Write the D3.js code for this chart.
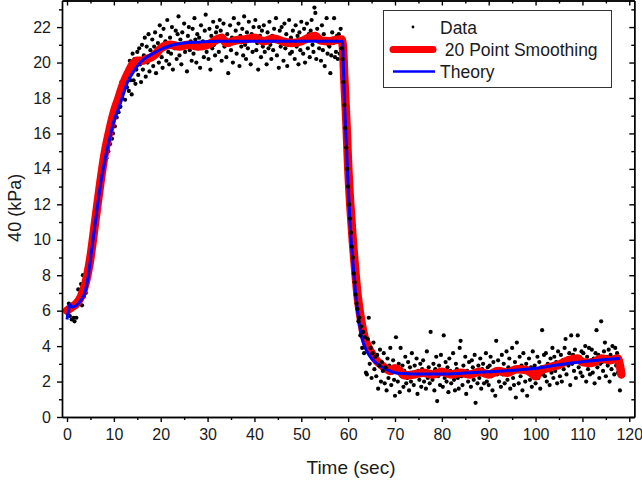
<!DOCTYPE html>
<html><head><meta charset="utf-8">
<script src="https://cdn.jsdelivr.net/npm/d3@7"></script>
<style>
html,body{margin:0;padding:0;background:#fff;}
svg{display:block;font-family:"Liberation Sans",Arial,sans-serif;}
</style></head>
<body>
<svg id="chart" width="642" height="486"></svg>
<script>
// ---- data ----
const sampleStep = 0.2; // seconds between measured samples
const measured = [
6.0,5.8,6.4,5.7,6.1,5.5,6.3,5.6,5.4,6.2,
5.6,6.6,7.2,6.4,6.9,7.5,6.3,8.0,6.8,7.3,
7.0,7.7,8.4,7.9,8.8,8.7,9.7,9.3,10.1,10.4,
11.4,10.8,12.1,11.5,12.9,12.3,13.0,14.1,13.6,14.6,
14.2,15.3,14.6,15.9,15.0,16.3,15.4,16.8,15.7,16.0,
17.1,16.4,17.6,16.9,17.9,17.2,18.4,17.5,18.9,18.0,
18.9,19.1,17.9,19.3,18.6,19.6,18.4,20.1,19.0,18.2,
20.5,19.0,20.2,18.8,19.6,20.6,19.3,20.8,19.9,18.9,
21.0,19.6,20.4,21.4,19.2,20.9,20.0,21.6,19.5,20.7,
20.2,21.3,19.8,20.9,21.7,19.4,20.6,21.1,20.0,22.1,
21.5,20.3,19.7,21.9,20.8,21.2,20.1,22.4,20.6,19.9,
21.4,20.5,22.0,19.6,21.1,20.8,21.8,20.2,21.6,22.6,
20.4,21.3,19.9,21.7,20.9,22.2,20.6,21.0,19.5,21.5,
22.0,20.7,21.2,20.1,21.9,20.5,22.5,21.3,20.0,21.6,
20.8,21.4,19.7,22.1,20.9,21.2,20.3,21.8,22.7,20.6,
21.1,20.2,21.9,19.6,21.5,20.8,22.3,21.0,20.4,21.7,
22.0,21.3,20.6,22.4,21.8,20.1,21.5,22.2,20.9,21.2,
20.3,21.6,19.4,21.0,22.1,20.7,21.4,20.0,22.5,21.1,
21.8,20.5,21.2,22.2,19.8,21.5,20.9,21.9,20.4,22.6,
21.0,20.2,21.7,20.8,22.3,21.3,19.9,21.6,20.6,22.0,
21.4,22.4,20.7,21.1,19.6,22.0,21.5,20.3,21.8,20.9,
22.1,20.6,21.3,19.9,21.7,20.8,22.3,21.0,20.2,21.5,
20.7,21.9,21.2,22.5,20.4,21.4,19.7,21.8,20.9,22.0,
21.3,20.1,22.2,20.8,21.6,19.8,21.0,22.4,20.5,21.4,
20.6,21.8,21.1,20.2,22.1,20.9,21.5,19.9,21.7,20.7,
22.3,21.2,20.5,21.9,20.0,21.4,22.2,20.8,21.6,20.3,
21.8,22.4,21.0,20.6,23.1,22.8,20.2,21.9,21.2,20.8,
21.4,20.1,22.1,20.7,21.6,19.8,21.3,22.5,20.5,21.0,
20.9,19.4,20.4,21.7,21.1,22.5,20.3,20.6,21.5,20.2,
21.6,20.5,21.9,20.8,20.2,18.9,17.6,16.3,15.2,14.0,
13.0,12.0,11.2,10.4,9.6,9.0,8.1,7.6,6.9,6.4,
6.1,5.4,5.6,4.6,5.1,3.9,4.8,3.6,4.5,2.5,
2.4,4.4,5.6,3.0,3.9,2.2,3.6,4.2,2.7,3.4,
2.3,3.5,1.6,2.9,3.8,2.0,3.1,2.6,3.6,1.9,
2.8,1.5,3.3,2.2,2.9,3.9,1.8,2.5,3.2,2.1,
1.2,4.5,2.7,2.0,3.0,1.4,3.9,2.3,2.9,1.7,
2.6,3.4,1.9,2.2,3.1,1.5,2.8,2.0,3.6,2.4,
1.8,2.9,2.3,3.3,1.3,2.6,2.1,3.0,1.7,2.7,
3.2,2.0,2.5,1.6,3.7,2.2,2.8,1.9,4.8,2.4,
2.1,3.0,1.5,2.7,3.4,0.9,2.3,2.9,1.8,3.5,
2.5,1.7,4.6,2.2,3.1,2.0,2.8,1.4,3.3,2.6,
1.9,2.4,3.6,2.1,1.5,3.0,2.7,2.2,1.6,3.9,
4.3,2.3,1.8,2.9,2.5,3.4,1.3,2.6,2.0,3.1,
2.4,1.7,3.2,2.8,2.1,3.5,0.8,2.5,1.9,2.9,
2.2,3.3,1.6,2.7,3.0,1.9,2.5,3.6,2.0,2.8,
1.8,2.9,3.4,2.3,1.5,3.1,2.6,1.2,4.3,2.4,
3.2,2.0,2.7,1.7,3.5,2.4,3.0,1.9,2.6,3.7,
2.1,2.8,3.3,1.6,2.5,3.9,2.2,1.8,3.1,1.1,
4.2,2.6,1.9,3.4,2.3,2.9,1.5,3.6,2.7,2.0,
3.0,1.2,2.5,3.3,2.1,2.8,1.7,3.7,2.3,2.9,
1.9,2.6,3.4,2.2,3.1,1.6,2.8,4.9,2.4,3.5,
2.3,3.6,2.0,3.0,2.7,1.8,3.3,2.5,3.9,2.2,
3.4,2.6,3.1,1.9,3.7,2.8,2.3,3.5,2.0,3.2,
2.7,3.9,4.4,2.4,3.3,2.9,3.6,1.8,4.6,3.0,
3.5,2.6,3.8,2.2,3.2,4.6,2.8,3.4,2.5,3.7,
2.3,3.6,3.0,4.0,2.0,3.4,2.7,3.9,2.4,3.2,
3.8,2.5,3.3,1.9,3.6,4.9,2.8,3.5,2.2,3.0,
5.4,3.1,2.6,3.7,4.2,2.3,3.4,2.9,3.8,2.0,
3.5,2.7,4.0,3.2,2.4,3.9,2.9,3.6,2.5,3.3,
1.5,3.1,2.6
];
const smoothTime = [0,0.5,1,2,3,4,5,6,7,8,9,10,11,12,13,14,15,16,17,18,19,20,22,24,26,28,30,32,33,34,36,38,40,42,44,46,48,50,52,53,54,56,58,58.6,58.9,59.2,59.6,60,60.5,61,61.5,62,62.5,63,63.5,64,65,66,67,68,69,70,71,72,74,76,78,80,82,84,86,88,90,92,94,96,98,99,100,101,103,105,107,109,110,112,114,116,117.5,118,118.3];
const smoothValue = [6.0,6.1,6.2,6.4,6.8,7.6,9.0,11.0,13.0,14.8,16.1,17.2,18.0,18.8,19.4,19.9,20.1,20.1,20.2,20.3,20.5,20.8,21.0,20.9,21.0,20.9,21.0,21.3,21.4,21.1,21.25,21.3,21.4,21.2,21.35,21.2,21.1,21.2,21.45,21.5,21.25,21.2,21.3,21.3,20.8,19.0,16.8,14.2,11.8,9.9,8.3,6.9,5.9,5.1,4.5,4.1,3.6,3.2,2.95,2.75,2.6,2.75,2.6,2.35,2.4,2.5,2.4,2.55,2.4,2.5,2.4,2.55,2.4,2.6,2.5,2.7,2.65,2.5,2.3,2.6,2.8,2.95,3.2,3.3,3.1,3.05,3.3,3.2,3.3,2.9,2.4];
const theoryTime = [0,0.3,0.6,1.2,2,3,3.8,4.5,5.25,6.2,7.2,8.4,9,10,11,12,13,14,15,16,17,18,20,22,25,28,32,40,50,58.8,59.0,59.2,59.6,60,60.5,61,61.5,62,62.5,63,63.5,64,65,66,67,68,70,72,75,80,85,90,95,100,105,110,115,118];
const theoryValue = [5.5,6.0,6.35,6.2,6.3,6.6,7.0,7.9,9.4,11.3,13.2,14.9,15.6,16.7,17.4,18.2,18.95,19.4,19.8,20.1,20.3,20.45,20.75,20.95,21.1,21.15,21.2,21.2,21.2,21.2,19.6,17.9,15.5,13.0,10.5,8.8,7.2,6.0,5.1,4.4,4.0,3.7,3.3,3.05,2.85,2.7,2.5,2.45,2.42,2.42,2.48,2.55,2.63,2.75,2.95,3.12,3.25,3.3];
const xMajorTicks = [0,10,20,30,40,50,60,70,80,90,100,110,120];
const xMinorTicks = [5,15,25,35,45,55,65,75,85,95,105,115];
const yMajorTicks = [0,2,4,6,8,10,12,14,16,18,20,22];
const yMinorTicks = [1,3,5,7,9,11,13,15,17,19,21,23];
const xTitle = "Time (sec)";
const yTitle = "40 (kPa)";
const legendLabels = ["Data", " 20 Point Smoothing", "Theory"];

// ---- chart ----
const svg = d3.select("#chart");
const L = 62, R = 634.3, T = 0.5, B = 417;
const x = d3.scaleLinear().domain([-1.07, 121.07]).range([L, R]);
const y = d3.scaleLinear().domain([0, 23.5]).range([B, T]);

const pts = measured.map((v, i) => ({t: +(i * sampleStep).toFixed(2), v}));
const smooth = smoothTime.map((t, i) => ({t, v: smoothValue[i]}));
const theory = theoryTime.map((t, i) => ({t, v: theoryValue[i]}));

const dotR = 2.1;
const plot = svg.append("g");
const dotsUnder = plot.append("g");
const line = d3.line().x(d => x(d.t)).y(d => y(d.v)).curve(d3.curveMonotoneX);

dotsUnder.selectAll("circle").data(pts.filter(d => d.t < 58.6 || d.t > 68))
  .join("circle").attr("cx", d => x(d.t)).attr("cy", d => y(d.v)).attr("r", dotR).attr("fill", "#000");

plot.append("path").datum(smooth).attr("d", line).attr("fill", "none")
  .attr("stroke", "#ff0000").attr("stroke-width", 8.5).attr("stroke-linecap", "round").attr("stroke-linejoin", "round");
plot.append("path").datum(theory).attr("d", line).attr("fill", "none")
  .attr("stroke", "#0000ff").attr("stroke-width", 3);

plot.append("g").selectAll("circle").data(pts.filter(d => d.t >= 58.6 && d.t <= 68))
  .join("circle").attr("cx", d => x(d.t)).attr("cy", d => y(d.v)).attr("r", dotR).attr("fill", "#000");

// axes
function styleAxis(g) {
  g.selectAll("path.domain").attr("stroke", "#000").attr("stroke-width", 1.4);
  g.selectAll(".tick line").attr("stroke", "#000").attr("stroke-width", 1.4);
  g.selectAll(".tick text").attr("fill", "#1a1a1a").style("font-size", "16px").style("font-family", '"Liberation Sans",Arial,sans-serif');
}
const gx = svg.append("g").attr("transform", `translate(0,${B})`)
  .call(d3.axisBottom(x).tickValues(xMajorTicks).tickSize(5).tickSizeOuter(0).tickPadding(7).tickFormat(d3.format("d")));
styleAxis(gx);
const gxm = svg.append("g").attr("transform", `translate(0,${B})`)
  .call(d3.axisBottom(x).tickValues(xMinorTicks).tickSize(3).tickSizeOuter(0).tickFormat(""));
styleAxis(gxm);
const gy = svg.append("g").attr("transform", `translate(${L},0)`)
  .call(d3.axisLeft(y).tickValues(yMajorTicks).tickSize(5).tickSizeOuter(0).tickPadding(6).tickFormat(d3.format("d")));
styleAxis(gy);
const gym = svg.append("g").attr("transform", `translate(${L},0)`)
  .call(d3.axisLeft(y).tickValues(yMinorTicks).tickSize(3).tickSizeOuter(0).tickFormat(""));
styleAxis(gym);
// top and right (inward ticks, no labels)
const gt = svg.append("g").attr("transform", `translate(0,${T})`)
  .call(d3.axisBottom(x).tickValues(xMajorTicks).tickSize(5).tickSizeOuter(0).tickFormat(""));
styleAxis(gt);
const gtm = svg.append("g").attr("transform", `translate(0,${T})`)
  .call(d3.axisBottom(x).tickValues(xMinorTicks).tickSize(3).tickSizeOuter(0).tickFormat(""));
styleAxis(gtm);
const gr = svg.append("g").attr("transform", `translate(${R},0)`)
  .call(d3.axisLeft(y).tickValues(yMajorTicks).tickSize(5).tickSizeOuter(0).tickFormat(""));
styleAxis(gr);
const grm = svg.append("g").attr("transform", `translate(${R},0)`)
  .call(d3.axisLeft(y).tickValues(yMinorTicks).tickSize(3).tickSizeOuter(0).tickFormat(""));
styleAxis(grm);

// titles
svg.append("text").attr("x", 351).attr("y", 474).attr("text-anchor", "middle")
  .style("font-size", "19px").attr("fill", "#1a1a1a").text(xTitle);
svg.append("text").attr("transform", `translate(21,${y(11.8)}) rotate(-90)`).attr("text-anchor", "middle")
  .style("font-size", "18px").attr("fill", "#1a1a1a").text(yTitle);

// legend
const lg = svg.append("g");
lg.append("rect").attr("x", 383.5).attr("y", 10.5).attr("width", 228).attr("height", 77)
  .attr("fill", "#fff").attr("stroke", "#333").attr("stroke-width", 1);
lg.append("circle").attr("cx", 413).attr("cy", 27).attr("r", 1.4).attr("fill", "#000");
lg.append("line").attr("x1", 393).attr("x2", 433).attr("y1", 49.5).attr("y2", 49.5)
  .attr("stroke", "#ff0000").attr("stroke-width", 7).attr("stroke-linecap", "round");
lg.append("line").attr("x1", 393).attr("x2", 435).attr("y1", 71.5).attr("y2", 71.5)
  .attr("stroke", "#0000ff").attr("stroke-width", 2.5);
const ly = [33.5, 55.5, 77.5];
const lx = [440, 440, 440];
legendLabels.forEach((s, i) => {
  lg.append("text").attr("x", lx[i]).attr("y", ly[i]).style("font-size", "17.5px")
    .style("white-space", "pre").attr("xml:space", "preserve").attr("fill", "#1a1a1a").text(s);
});
</script>
</body></html>
